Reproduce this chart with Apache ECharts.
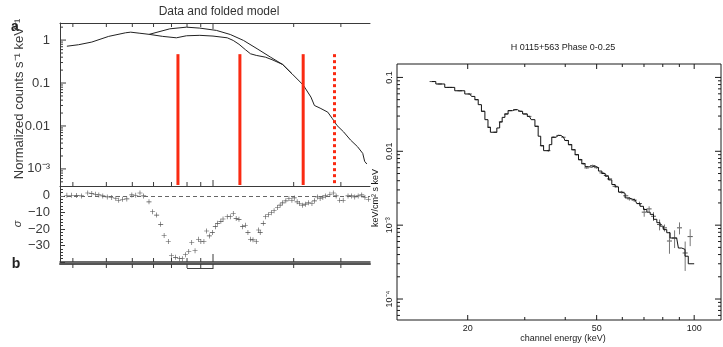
<!DOCTYPE html>
<html><head><meta charset="utf-8">
<script src="https://cdn.jsdelivr.net/npm/echarts@6/dist/echarts.min.js"></script>
<style>html,body{margin:0;padding:0;background:#fff}#c{width:723px;height:347px}</style>
</head><body><div id="c"></div>
<script>
// ---------- DATA (left panel a: data and folded model) ----------
const lowerE = [2.85,3.15,3.53,4.08,4.72,4.93,5.30,5.78,6.49,7.30,7.96,8.93,10.0,11.3,11.9,12.5,13.2,13.8,14.5,15.7,16.6,18.2,19.7,21.7,23.2,23.9,25.1,26.8,27.9,29.0,30.7,32.6,34.6,36.2,36.8,37.5];
const lowerV = [0.72,0.78,0.90,1.22,1.48,1.53,1.45,1.36,1.22,1.13,1.26,1.29,1.24,1.13,0.98,0.80,0.60,0.48,0.44,0.40,0.35,0.27,0.165,0.09,0.047,0.030,0.026,0.021,0.0148,0.0103,0.0073,0.0047,0.0033,0.0023,0.0015,0.0013];
const upperE = [5.78,6.9,7.96,8.93,10.3,11.6,13.0,14.6,16.4,18.2,19.7];
const upperV = [1.36,1.83,2.0,1.9,1.68,1.35,0.98,0.63,0.40,0.27,0.165];
const redLineE = [7.4,12.6,21.7];
const dottedLineE = [28.4];
const redLineTop = 0.47;
// residuals (sigma)
const residE = [2.85,2.97,3.10,3.23,3.41,3.53,3.64,3.75,3.88,4.03,4.19,4.34,4.45,4.60,4.77,4.98,5.15,5.34,5.51,5.77,5.95,6.16,6.38,6.57,6.81,7.00,7.25,7.50,7.68,7.89,8.12,8.33,8.57,8.83,9.01,9.25,9.47,9.69,9.94,10.2,10.4,10.7,10.9,11.3,11.6,11.9,12.2,12.5,12.9,13.2,13.5,13.8,14.1,14.5,14.8,15.0,15.4,15.7,16.1,16.5,16.9,17.4,17.8,18.2,18.7,19.2,19.7,20.1,20.6,21.0,21.6,22.1,22.7,23.4,23.9,24.5,25.1,25.7,26.3,27.3,28.1,28.8,29.7,30.6,31.9,32.9,33.8,34.8,35.9,36.9,38.0];
const residV = [0.4,0.4,0.2,0,1.8,1.4,1.0,0.6,0,-0.6,-1.0,-1.6,-2.6,-2.0,-1.8,0.6,0.4,1.8,0,-3.6,-9.6,-11.6,-17.2,-24,-27.6,-36.2,-37.2,-38,-38,-35.6,-33.6,-28.2,-33.2,-26.2,-27.6,-27.6,-21.2,-24.2,-22.2,-18.6,-16.6,-15.4,-14,-12.6,-12.6,-10.6,-13.6,-14.2,-18.6,-17.8,-22.2,-26.2,-26.6,-27.6,-20.6,-22.2,-16.6,-12.6,-11.4,-10.2,-9,-7,-5.6,-4.2,-3,-1.6,-2.6,-1.2,-3.6,-4.6,-5.6,-5,-4.2,-4.6,-3,-0.6,-1.6,-1.0,0,1,1.8,0,-2.6,-2.6,0,0,-0.6,0,0.6,-1,-2];

// ---------- DATA (right panel: H 0115+563 Phase 0-0.25) ----------
const modelE = [15.5,16.4,17.6,18.9,20.3,20.8,21.3,21.8,22.3,22.9,23.3,23.7,24.3,24.9,25.3,25.8,26.3,27.0,28.0,29.0,30.1,31.0,31.8,32.7,33.3,33.9,34.7,35.5,35.9,36.8,38.1,39.5,40.4,41.4,42.4,43.4,44.5,45.5,46.6,47.7,48.9,50.0,51.3,52.5,53.8,55.0,56.4,57.7,59.1,60.5,61.9,64.2,65.7,67.3,68.9,70.6,72.3,74.0,75.8,77.6,79.4,81.3,83.3,85.3,88.3,90.5,92.6,94.8,97.0,100];
const modelV = [0.088,0.0815,0.0733,0.066,0.0597,0.0553,0.05,0.0428,0.0348,0.0268,0.0211,0.0181,0.0181,0.0207,0.025,0.0288,0.032,0.0355,0.0366,0.0348,0.032,0.0297,0.0268,0.0218,0.016,0.0119,0.0102,0.0102,0.0123,0.0155,0.0164,0.0155,0.014,0.0123,0.0105,0.009,0.0077,0.0068,0.0062,0.0061,0.0063,0.006,0.0054,0.005,0.0046,0.0041,0.00355,0.0033,0.0028,0.0027,0.00234,0.00226,0.0022,0.00196,0.0018,0.00163,0.0015,0.0014,0.0012,0.00108,0.00097,0.00087,0.00079,0.00067,0.00067,0.00049,0.00047,0.00038,0.0003,0.0003];
const dataE  = [15.5,16.4,17.6,18.9,20.3,21.3,22.3,23.3,24.3,25.3,26.3,27.0,28.0,29.0,30.1,31.0,32.7,33.9,35.5,36.8,38.1,39.5,40.4,41.4,42.4,43.4,44.5,45.5,46.6,48.6,50.0,51.9,53.5,54.8,57.0,59.8,61.5,63.1,65.3,67.8,70.1,72.6,74.9,78.2,81.0,83.9,87.0,90.1,93.8,97.2];
const dataV  = [0.088,0.0815,0.0733,0.066,0.0597,0.050,0.0348,0.0211,0.0181,0.025,0.032,0.0355,0.0366,0.0348,0.032,0.0297,0.0218,0.0119,0.0102,0.0155,0.0164,0.0155,0.014,0.0123,0.0105,0.009,0.0077,0.0068,0.00596,0.0064,0.0060,0.0051,0.0047,0.00423,0.00336,0.00279,0.0025,0.00227,0.00218,0.00196,0.0015,0.00166,0.00132,0.00102,0.00092,0.00061,0.00067,0.00092,0.00042,0.0007];
const dataDE = [0.25,0.25,0.3,0.3,0.3,0.3,0.3,0.3,0.35,0.35,0.4,0.4,0.4,0.4,0.45,0.45,0.5,0.5,0.5,0.55,0.55,0.6,0.6,0.6,0.65,0.65,0.65,0.7,0.8,0.9,0.9,0.9,0.9,1.0,1.0,1.1,1.1,1.1,1.2,1.2,1.2,1.3,1.3,1.4,1.4,1.5,1.6,1.6,1.7,1.8];
const dataDV = [0.0015,0.0012,0.001,0.001,0.0009,0.0008,0.0006,0.0004,0.0004,0.0005,0.0006,0.0006,0.0006,0.0006,0.0006,0.0006,0.0004,0.0003,0.0003,0.0003,0.0003,0.0003,0.0003,0.0003,0.0002,0.0002,0.0002,0.0002,0.0002,0.0002,0.0002,0.00018,0.00017,0.00016,0.00014,0.00013,0.00012,0.00012,0.00012,0.00012,0.0002,0.00014,0.00018,0.00017,0.0001,0.0002,0.00018,0.00017,0.00018,0.00018];

// ---------- AXES / TICKS ----------
const L_XMIN = 2.686, L_XMAX = 38.53, L_YMIN = 4e-4, L_YMAX = 2.5;
const S_MIN = -40, S_MAX = 6;
const RX_MIN = 12.1, RX_MAX = 121, RY_MIN = 5.2e-5, RY_MAX = 0.152;
const leftXMinorTicks = [3,4,5,6,7,8,9,20,30];
const leftXMajorTicks = [10];
const leftYMajorTicks = [0.001,0.01,0.1,1];
const rightXTicks = [20,30,40,50,60,70,80,90,100];
const rightXLabels = [20,50,100];
const rightXMajor = [20,50,100];
const rightYMajorTicks = [1e-4,1e-3,1e-2,0.1];
const sigmaLabels = {0:'0','-10':'−10','-20':'−20','-30':'−30'};
const logLabelL = {0:'1','-1':'0.1','-2':'0.01','-3':'10⁻³'};
const logLabelR = {'-1':'0.1','-2':'0.01','-3':'10⁻³','-4':'10⁻⁴'};

function minorLog(lo, hi) {
  const out = [];
  for (let d = -6; d <= 2; d++) for (let m = 2; m <= 9; m++) {
    const v = m * Math.pow(10, d);
    if (v > lo && v < hi) out.push(v);
  }
  return out;
}

const FL = '"Liberation Sans", Arial, sans-serif';
const CL = '#3a3a3a';
const CR = '#1a1a1a';

function segSeries(xi, yi, items, color, width) {
  return {
    type: 'custom', xAxisIndex: xi, yAxisIndex: yi, silent: true, animation: false, clip: false, z: 5,
    data: items,
    renderItem(params, api) {
      const p = api.coord([api.value(0), api.value(1)]);
      return {type: 'line', shape: {x1: p[0], y1: p[1], x2: p[0] + api.value(2), y2: p[1] + api.value(3)},
              style: {stroke: color, lineWidth: width || 1}};
    }
  };
}

const ticks = [];
ticks.push(segSeries(0, 0, [
  ...leftXMinorTicks.map(v => [v, L_YMIN, 0, -4]),
  ...leftXMajorTicks.map(v => [v, L_YMIN, 0, -6]),
  ...leftXMinorTicks.map(v => [v, L_YMAX, 0, 4]),
  ...leftXMajorTicks.map(v => [v, L_YMAX, 0, 6]),
  ...leftYMajorTicks.map(v => [L_XMIN, v, 6, 0]),
  ...minorLog(L_YMIN, L_YMAX).map(v => [L_XMIN, v, 3, 0])
], CL));
ticks.push(segSeries(2, 1, [
  ...leftXMinorTicks.map(v => [v, S_MIN, 0, -4]),
  ...leftXMajorTicks.map(v => [v, S_MIN, 0, -8])
], CL));
ticks.push(segSeries(3, 2, [
  ...leftXMinorTicks.map(v => [v, 1, 0, 4]),
  ...leftXMajorTicks.map(v => [v, 1, 0, 5])
], CL));
ticks.push(segSeries(4, 3, [
  ...rightXTicks.map(v => [v, RY_MIN, 0, rightXMajor.includes(v) ? -5 : -3]),
  ...rightXTicks.map(v => [v, RY_MAX, 0, rightXMajor.includes(v) ? 5 : 3]),
  ...rightYMajorTicks.map(v => [RX_MIN, v, 6, 0]),
  ...minorLog(RY_MIN, RY_MAX).map(v => [RX_MIN, v, 3, 0]),
  ...rightYMajorTicks.map(v => [RX_MAX, v, -6, 0]),
  ...minorLog(RY_MIN, RY_MAX).map(v => [RX_MAX, v, -3, 0])
], CR));

const plusPath = 'path://M0,4.4H10V5.6H0Z M4.4,0H5.6V10H4.4Z';
const noZero = {show: true, onZero: false};

const option = {
  animation: false,
  backgroundColor: '#fff',
  grid: [
    {left: 60, top: 23, width: 310, height: 163},
    {left: 60, top: 186, width: 310, height: 76},
    {left: 60, top: 264, width: 310, height: 10},
    {left: 397, top: 64, width: 324, height: 256, show: true, borderColor: CR, borderWidth: 1, backgroundColor: 'transparent'}
  ],
  xAxis: [
    {gridIndex: 0, type: 'log', min: L_XMIN, max: L_XMAX, position: 'bottom',
     axisLine: {...noZero, lineStyle: {color: CL}}, axisTick: {show: false}, axisLabel: {show: false}, splitLine: {show: false}},
    {gridIndex: 0, type: 'log', min: L_XMIN, max: L_XMAX, position: 'top',
     axisLine: {...noZero, lineStyle: {color: CL}}, axisTick: {show: false}, axisLabel: {show: false}, splitLine: {show: false}},
    {gridIndex: 1, type: 'log', min: L_XMIN, max: L_XMAX, position: 'bottom',
     axisLine: {...noZero, lineStyle: {color: CL, width: 1.5}}, axisTick: {show: false}, axisLabel: {show: false}, splitLine: {show: false}},
    {gridIndex: 2, type: 'log', min: L_XMIN, max: L_XMAX, position: 'top',
     axisLine: {...noZero, lineStyle: {color: '#555', width: 2}}, axisTick: {show: false}, axisLabel: {show: false}, splitLine: {show: false}},
    {gridIndex: 3, type: 'log', min: RX_MIN, max: RX_MAX, position: 'bottom',
     axisLine: {show: false, onZero: false}, axisTick: {show: false}, axisLabel: {show: false}, splitLine: {show: false}}
  ],
  yAxis: [
    {gridIndex: 0, type: 'log', min: L_YMIN, max: L_YMAX,
     axisLine: {...noZero, lineStyle: {color: CL}}, axisTick: {show: false}, splitLine: {show: false},
     axisLabel: {show: true, showMinLabel: false, showMaxLabel: false, margin: 10, color: CL, fontSize: 13, fontFamily: FL,
       formatter: v => logLabelL[Math.round(Math.log10(v))] || ''}},
    {gridIndex: 1, type: 'value', min: S_MIN, max: S_MAX, interval: 10,
     axisLine: {...noZero, lineStyle: {color: CL}}, splitLine: {show: false},
     axisTick: {show: true, inside: true, length: 5, lineStyle: {color: CL}},
     minorTick: {show: true, splitNumber: 5, length: 3, lineStyle: {color: CL}},
     axisLabel: {show: true, showMinLabel: false, showMaxLabel: false, margin: 10, color: CL, fontSize: 13, fontFamily: FL,
       formatter: v => sigmaLabels[String(v)] || ''}},
    {gridIndex: 2, type: 'value', min: 0, max: 1, show: false},
    {gridIndex: 3, type: 'log', min: RY_MIN, max: RY_MAX,
     axisLine: {show: false, onZero: false}, axisTick: {show: false}, splitLine: {show: false},
     axisLabel: {show: true, rotate: 90, showMinLabel: false, showMaxLabel: false, margin: 3, color: CR, fontSize: 9, fontFamily: FL,
       formatter: v => logLabelR[Math.round(Math.log10(v))] || ''}}
  ],
  graphic: [
    {type: 'text', x: 219, y: 12, style: {text: 'Data and folded model', font: '12px ' + FL, fill: '#333', align: 'center', verticalAlign: 'middle', textAlign: 'center', textVerticalAlign: 'middle'}},
    {type: 'text', x: 15, y: 27, style: {text: 'a', font: 'bold 14px ' + FL, fill: '#222', align: 'center', verticalAlign: 'middle', textAlign: 'center', textVerticalAlign: 'middle'}},
    {type: 'text', x: 16, y: 264, style: {text: 'b', font: 'bold 14px ' + FL, fill: '#222', align: 'center', verticalAlign: 'middle', textAlign: 'center', textVerticalAlign: 'middle'}},
    {type: 'text', x: 19, y: 99, rotation: Math.PI / 2, style: {text: 'Normalized counts s⁻¹ keV⁻¹', font: '13px ' + FL, fill: CL, align: 'center', verticalAlign: 'middle', textAlign: 'center', textVerticalAlign: 'middle'}},
    {type: 'text', x: 18, y: 224, rotation: Math.PI / 2, style: {text: 'σ', font: 'italic 11px ' + FL, fill: CL, align: 'center', verticalAlign: 'middle', textAlign: 'center', textVerticalAlign: 'middle'}},
    {type: 'line', shape: {x1: 187, y1: 268.5, x2: 213, y2: 268.5}, style: {stroke: '#444', lineWidth: 1}},
    {type: 'text', x: 563, y: 48, style: {text: 'H 0115+563 Phase 0-0.25', font: '9px ' + FL, fill: CR, align: 'center', verticalAlign: 'middle', textAlign: 'center', textVerticalAlign: 'middle'}},
    {type: 'text', x: 563, y: 339, style: {text: 'channel energy (keV)', font: '9px ' + FL, fill: CR, align: 'center', verticalAlign: 'middle', textAlign: 'center', textVerticalAlign: 'middle'}},
    {type: 'text', x: 376, y: 198, rotation: Math.PI / 2, style: {text: 'keV/cm² s keV', font: '9px ' + FL, fill: CR, align: 'center', verticalAlign: 'middle', textAlign: 'center', textVerticalAlign: 'middle'}}
  ],
  series: [
    {type: 'line', name: 'data', xAxisIndex: 0, yAxisIndex: 0, showSymbol: false, data: lowerE.map((e, i) => [e, lowerV[i]]),
     lineStyle: {color: '#222', width: 1}, itemStyle: {color: '#222'}},
    {type: 'line', name: 'model', xAxisIndex: 0, yAxisIndex: 0, showSymbol: false, data: upperE.map((e, i) => [e, upperV[i]]),
     lineStyle: {color: '#222', width: 1}, itemStyle: {color: '#222'}},
    {type: 'custom', xAxisIndex: 0, yAxisIndex: 0, silent: true, clip: false, z: 4,
     data: redLineE.map(e => [e, redLineTop, 0]).concat(dottedLineE.map(e => [e, redLineTop, 1])),
     renderItem(params, api) {
       const t = api.coord([api.value(0), api.value(1)]);
       const b = api.coord([api.value(0), L_YMIN]);
       const dotted = api.value(2) === 1;
       return {type: 'line', shape: {x1: t[0], y1: t[1], x2: b[0], y2: b[1] - 1},
               style: {stroke: '#fa2a12', lineWidth: 3, lineDash: dotted ? [3, 3] : null}};
     }},
    {type: 'scatter', xAxisIndex: 2, yAxisIndex: 1, symbol: plusPath, symbolSize: 5,
     data: residE.map((e, i) => [e, residV[i]]), itemStyle: {color: '#222'},
     markLine: {silent: true, symbol: 'none', label: {show: false},
       lineStyle: {color: '#666', type: [4, 3], width: 1}, data: [{yAxis: 0}]}},
    {type: 'line', step: 'middle', xAxisIndex: 4, yAxisIndex: 3, showSymbol: false,
     data: modelE.map((e, i) => [e, modelV[i]]), lineStyle: {color: '#111', width: 1}, itemStyle: {color: '#111'}},
    {type: 'custom', xAxisIndex: 4, yAxisIndex: 3, silent: true, clip: false, z: 3,
     data: dataE.map((e, i) => [e, dataV[i], dataDE[i], dataDV[i]]),
     renderItem(params, api) {
       const e = api.value(0), v = api.value(1), de = api.value(2), dv = api.value(3);
       const a = api.coord([e - de, v]), b = api.coord([e + de, v]);
       const c = api.coord([e, v - dv]), d = api.coord([e, v + dv]);
       return {type: 'group', children: [
         {type: 'line', shape: {x1: a[0], y1: a[1], x2: b[0], y2: b[1]}, style: {stroke: '#555', lineWidth: 1}},
         {type: 'line', shape: {x1: c[0], y1: c[1], x2: d[0], y2: d[1]}, style: {stroke: '#777', lineWidth: 1}}
       ]};
     }},
    {type: 'custom', xAxisIndex: 4, yAxisIndex: 3, silent: true, clip: false,
     data: rightXLabels.map(v => [v, RY_MIN]),
     renderItem(params, api) {
       const p = api.coord([api.value(0), api.value(1)]);
       return {type: 'text', x: p[0], y: p[1] + 4,
               style: {text: String(api.value(0)), fill: CR, font: '9px ' + FL, align: 'center', verticalAlign: 'top', textAlign: 'center', textVerticalAlign: 'top'}};
     }},
    ...ticks
  ]
};
const chart = echarts.init(document.getElementById('c'));
chart.setOption(option);
</script></body></html>
